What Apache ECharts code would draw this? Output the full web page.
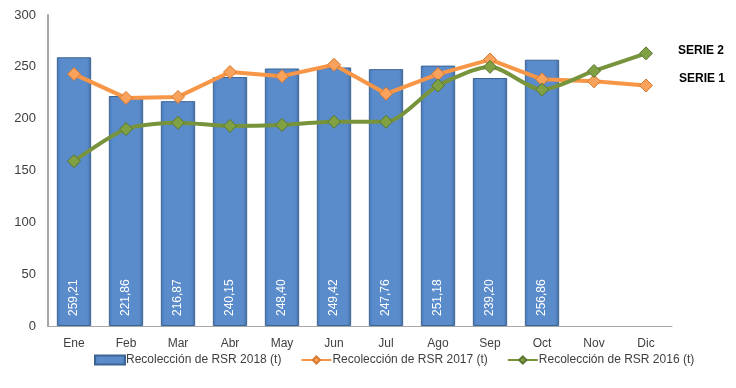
<!DOCTYPE html>
<html><head><meta charset="utf-8">
<script src="https://cdn.jsdelivr.net/npm/echarts@6/dist/echarts.min.js"></script>
<style>html,body{margin:0;padding:0;background:#fff}#c{width:736px;height:388px}</style>
</head><body><div id="c"></div>
<script>
const categories = ['Ene','Feb','Mar','Abr','May','Jun','Jul','Ago','Sep','Oct','Nov','Dic'];
const rsr2018 = [259.21, 221.86, 216.87, 240.15, 248.40, 249.42, 247.76, 251.18, 239.20, 256.86, null, null];
const rsr2017 = [243, 220, 221, 245, 241, 252, 224, 243, 257, 238, 236, 232];
const rsr2016 = [159, 190, 196, 193, 194, 197, 197, 232, 250, 228, 246, 263];
const yTicks = {min: 0, max: 300, interval: 50};

const font = 'Liberation Sans';
const chart = echarts.init(document.getElementById('c'));
chart.setOption({
  animation: false,
  textStyle: {fontFamily: font},
  grid: {left: 48, right: 64, top: 15, bottom: 62},
  legend: {
    left: 89, top: 349, itemGap: 19, itemWidth: 30, itemHeight: 9,
    textStyle: {fontFamily: font, fontSize: 12, color: '#404040', padding: [0,0,0,-4]},
    data: [
      {name: 'Recolección de RSR 2018 (t)', icon: 'rect'},
      {name: 'Recolección de RSR 2017 (t)'},
      {name: 'Recolección de RSR 2016 (t)'}
    ]
  },
  xAxis: {
    type: 'category', data: categories,
    axisLine: {lineStyle: {color: '#A6A6A6', width: 1}},
    axisTick: {show: false},
    axisLabel: {color: '#404040', fontSize: 12, margin: 12, fontFamily: font}
  },
  yAxis: {
    type: 'value', min: yTicks.min, max: yTicks.max, interval: yTicks.interval,
    axisLine: {show: true, lineStyle: {color: '#A6A6A6', width: 2}},
    axisTick: {show: false},
    splitLine: {show: false},
    axisLabel: {color: '#404040', fontSize: 13, margin: 12, fontFamily: font}
  },
  graphic: [
    {type: 'text', left: 678, top: 45, style: {text: 'SERIE 2', font: 'bold 12px ' + font, fill: '#000'}},
    {type: 'text', left: 679, top: 73, style: {text: 'SERIE 1', font: 'bold 12px ' + font, fill: '#000'}}
  ],
  series: [
    {
      name: 'Recolección de RSR 2018 (t)', type: 'bar', data: rsr2018,
      barCategoryGap: '34%',
      itemStyle: {
        color: new echarts.graphic.LinearGradient(0, 0, 1, 0, [
          {offset: 0, color: '#4A7AB8'}, {offset: 0.12, color: '#5A8BCB'},
          {offset: 0.88, color: '#5A8BCB'}, {offset: 1, color: '#44709F'}
        ]),
        borderColor: '#3B6495', borderWidth: 1
      },
      label: {
        show: true, position: 'insideBottom', rotate: 90, align: 'left', verticalAlign: 'middle',
        distance: 10, color: '#fff', fontSize: 12, fontFamily: font,
        formatter: p => p.value == null ? '' : p.value.toFixed(2).replace('.', ',')
      }
    },
    {
      name: 'Recolección de RSR 2017 (t)', type: 'line', data: rsr2017,
      symbol: 'diamond', symbolSize: 13,
      lineStyle: {color: '#F79646', width: 4},
      itemStyle: {color: '#F9A25B', borderColor: '#D9782E', borderWidth: 1}
    },
    {
      name: 'Recolección de RSR 2016 (t)', type: 'line', data: rsr2016,
      smooth: 0.25, symbol: 'diamond', symbolSize: 13,
      lineStyle: {color: '#77933C', width: 4},
      itemStyle: {color: '#7FA043', borderColor: '#5A7530', borderWidth: 1}
    }
  ]
});
</script></body></html>
